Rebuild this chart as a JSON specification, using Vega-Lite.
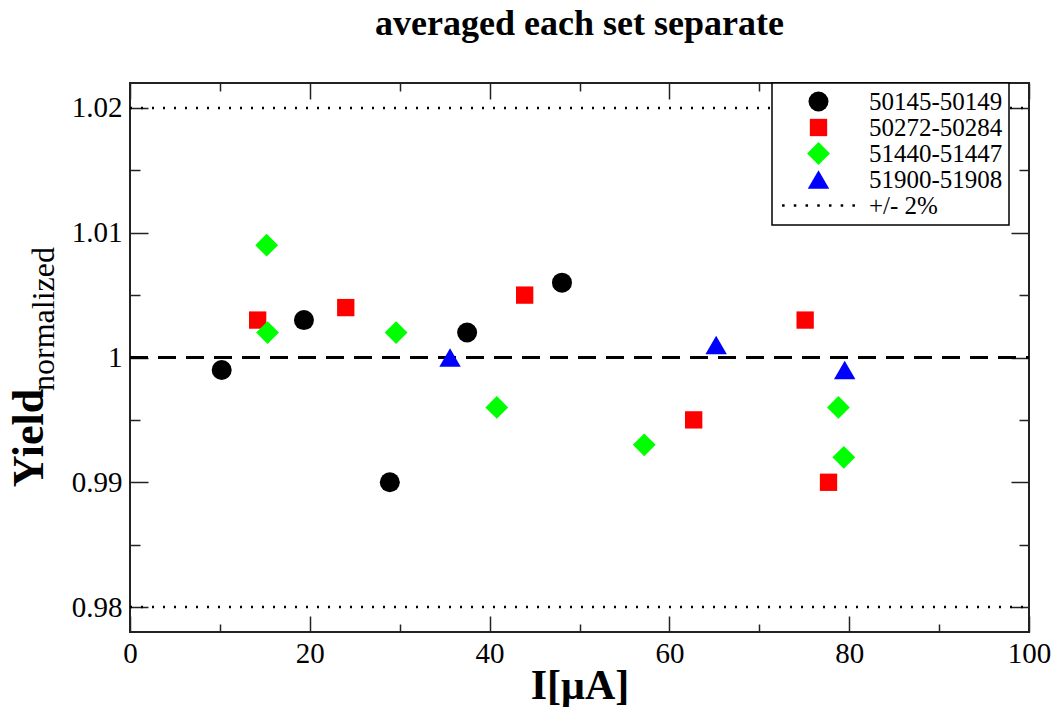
{
  "$schema": "https://vega.github.io/schema/vega-lite/v6.json",
  "width": 899,
  "height": 549,
  "autosize": {"type": "none"},
  "padding": {"left": 130, "top": 83, "right": 28, "bottom": 75},
  "background": "white",
  "title": {
    "text": "averaged each set separate",
    "font": "Liberation Serif",
    "fontSize": 36,
    "fontWeight": "bold",
    "color": "black",
    "anchor": "middle",
    "offset": 39
  },
  "config": {
    "view": {"stroke": "#222222", "strokeWidth": 2},
    "axis": {
      "domain": false,
      "grid": false,
      "labelColor": "black",
      "titleColor": "black",
      "tickColor": "#222222",
      "tickWidth": 1.5,
      "labelFlush": false,
      "labelOverlap": false
    },
    "legend": {"strokeWidth": 1.5}
  },
  "layer": [
    {
      "data": {
        "values": [
          {"level": 1.02, "kind": "+/- 2%"},
          {"level": 0.98, "kind": "+/- 2%"},
          {"level": 1.0, "kind": "unity"}
        ]
      },
      "mark": {"type": "rule", "color": "black"},
      "encoding": {
        "y": {
          "field": "level",
          "type": "quantitative",
          "scale": {"domain": [0.978, 1.022], "nice": false, "zero": false},
          "axis": {
            "orient": "right",
            "values": [0.98, 0.985, 0.99, 0.995, 1.0, 1.005, 1.01, 1.015, 1.02],
            "labels": false,
            "tickSize": {"condition": {"test": "abs(datum.value*100 - round(datum.value*100)) < 0.000001", "value": -18}, "value": -10},
            "title": "normalized",
            "titleFont": "Liberation Serif",
            "titleFontSize": 32,
            "titleFontWeight": 500,
            "titleAngle": -90,
            "titleAlign": "center",
            "titleBaseline": "alphabetic",
            "titleX": -976,
            "titleY": 235.5
          }
        },
        "x": {
          "datum": 0,
          "type": "quantitative",
          "scale": {"domain": [0, 100], "nice": false, "zero": false},
          "axis": {
            "orient": "top",
            "values": [0, 10, 20, 30, 40, 50, 60, 70, 80, 90, 100],
            "labels": false,
            "tickSize": {"condition": {"test": "datum.value % 20 === 0", "value": -16}, "value": -8},
            "title": null
          }
        },
        "x2": {"datum": 100},
        "strokeDash": {
          "field": "kind",
          "type": "nominal",
          "scale": {"domain": ["+/- 2%", "unity"], "range": [[2, 9], [18, 10]]},
          "legend": null
        },
        "strokeWidth": {
          "field": "kind",
          "type": "nominal",
          "scale": {"domain": ["+/- 2%", "unity"], "range": [2.5, 3]},
          "legend": null
        }
      }
    },
    {
      "data": {
        "values": [
          {"current": 10.2, "yield": 0.999, "set": "50145-50149"},
          {"current": 19.35, "yield": 1.003, "set": "50145-50149"},
          {"current": 28.9, "yield": 0.990, "set": "50145-50149"},
          {"current": 37.5, "yield": 1.002, "set": "50145-50149"},
          {"current": 48.05, "yield": 1.006, "set": "50145-50149"},
          {"current": 14.2, "yield": 1.003, "set": "50272-50284"},
          {"current": 24.0, "yield": 1.004, "set": "50272-50284"},
          {"current": 43.9, "yield": 1.005, "set": "50272-50284"},
          {"current": 62.7, "yield": 0.995, "set": "50272-50284"},
          {"current": 75.1, "yield": 1.003, "set": "50272-50284"},
          {"current": 77.7, "yield": 0.990, "set": "50272-50284"},
          {"current": 15.2, "yield": 1.009, "set": "51440-51447"},
          {"current": 15.3, "yield": 1.002, "set": "51440-51447"},
          {"current": 29.6, "yield": 1.002, "set": "51440-51447"},
          {"current": 40.8, "yield": 0.996, "set": "51440-51447"},
          {"current": 57.2, "yield": 0.993, "set": "51440-51447"},
          {"current": 78.8, "yield": 0.996, "set": "51440-51447"},
          {"current": 79.4, "yield": 0.992, "set": "51440-51447"},
          {"current": 35.6, "yield": 1.000, "set": "51900-51908"},
          {"current": 65.2, "yield": 1.001, "set": "51900-51908"},
          {"current": 79.5, "yield": 0.999, "set": "51900-51908"}
        ]
      },
      "mark": {"type": "point", "filled": true, "opacity": 1, "strokeWidth": 0},
      "encoding": {
        "x": {
          "field": "current",
          "type": "quantitative",
          "scale": {"domain": [0, 100], "nice": false, "zero": false},
          "axis": {
            "orient": "bottom",
            "values": [0, 10, 20, 30, 40, 50, 60, 70, 80, 90, 100],
            "tickSize": {"condition": {"test": "datum.value % 20 === 0", "value": -16}, "value": -8},
            "labelExpr": "datum.value % 20 === 0 ? datum.label : ''",
            "labelFont": "Liberation Serif",
            "labelFontWeight": 500,
            "labelFontSize": 29,
            "labelPadding": 23,
            "title": "I[μA]",
            "titleFont": "Liberation Serif",
            "titleFontSize": 42,
            "titleFontWeight": "bold",
            "titleAlign": "center",
            "titleBaseline": "alphabetic",
            "titleX": 449.5,
            "titleY": 66
          }
        },
        "y": {
          "field": "yield",
          "type": "quantitative",
          "scale": {"domain": [0.978, 1.022], "nice": false, "zero": false},
          "axis": {
            "orient": "left",
            "values": [0.98, 0.985, 0.99, 0.995, 1.0, 1.005, 1.01, 1.015, 1.02],
            "tickSize": {"condition": {"test": "abs(datum.value*100 - round(datum.value*100)) < 0.000001", "value": -18}, "value": -10},
            "labelExpr": "abs(datum.value*100 - round(datum.value*100)) < 0.000001 ? format(datum.value, '~g') : ''",
            "labelFont": "Liberation Serif",
            "labelFontWeight": 300,
            "labelFontSize": 29,
            "labelPadding": 26,
            "title": "Yield",
            "titleFont": "Liberation Serif",
            "titleFontSize": 44,
            "titleFontWeight": "bold",
            "titleAngle": -90,
            "titleAlign": "center",
            "titleBaseline": "alphabetic",
            "titleX": -88,
            "titleY": 354.5
          }
        },
        "color": {
          "field": "set",
          "type": "nominal",
          "scale": {
            "domain": ["50145-50149", "50272-50284", "51440-51447", "51900-51908", "+/- 2%"],
            "range": ["#000000", "#ff0000", "#00ff00", "#0000ff", "#000000"]
          },
          "legend": {
            "title": null,
            "orient": "none",
            "legendX": 642,
            "legendY": 0,
            "padding": 6,
            "strokeColor": "black",
            "fillColor": "white",
            "labelFont": "Liberation Serif",
            "labelFontWeight": 500,
            "labelFontSize": 25,
            "labelColor": "black",
            "labelLimit": 300,
            "symbolSize": 330,
            "symbolStrokeWidth": 0,
            "symbolOpacity": 1,
            "symbolOffset": 28,
            "labelOffset": 38,
            "rowPadding": 0
          }
        },
        "shape": {
          "field": "set",
          "type": "nominal",
          "scale": {
            "domain": ["50145-50149", "50272-50284", "51440-51447", "51900-51908", "+/- 2%"],
            "range": ["circle", "square", "diamond", "triangle-up", "M-4.01,-0.14h0.28v0.28h-0.28z M-2.72,-0.14h0.28v0.28h-0.28z M-1.43,-0.14h0.28v0.28h-0.28z M-0.14,-0.14h0.28v0.28h-0.28z M1.15,-0.14h0.28v0.28h-0.28z M2.44,-0.14h0.28v0.28h-0.28z M3.73,-0.14h0.28v0.28h-0.28z"]
          },
          "legend": {
            "title": null,
            "orient": "none",
            "legendX": 642,
            "legendY": 0,
            "padding": 6,
            "strokeColor": "black",
            "fillColor": "white",
            "labelFont": "Liberation Serif",
            "labelFontWeight": 500,
            "labelFontSize": 25,
            "labelColor": "black",
            "labelLimit": 300,
            "symbolSize": 330,
            "symbolStrokeWidth": 0,
            "symbolOpacity": 1,
            "symbolOffset": 28,
            "labelOffset": 38,
            "rowPadding": 0
          }
        },
        "size": {
          "field": "set",
          "type": "nominal",
          "scale": {
            "type": "ordinal",
            "domain": ["50145-50149", "50272-50284", "51440-51447", "51900-51908", "+/- 2%"],
            "range": [400, 300, 520, 460, 330]
          },
          "legend": null
        }
      }
    }
  ],
  "resolve": {"axis": {"x": "independent", "y": "independent"}}
}
